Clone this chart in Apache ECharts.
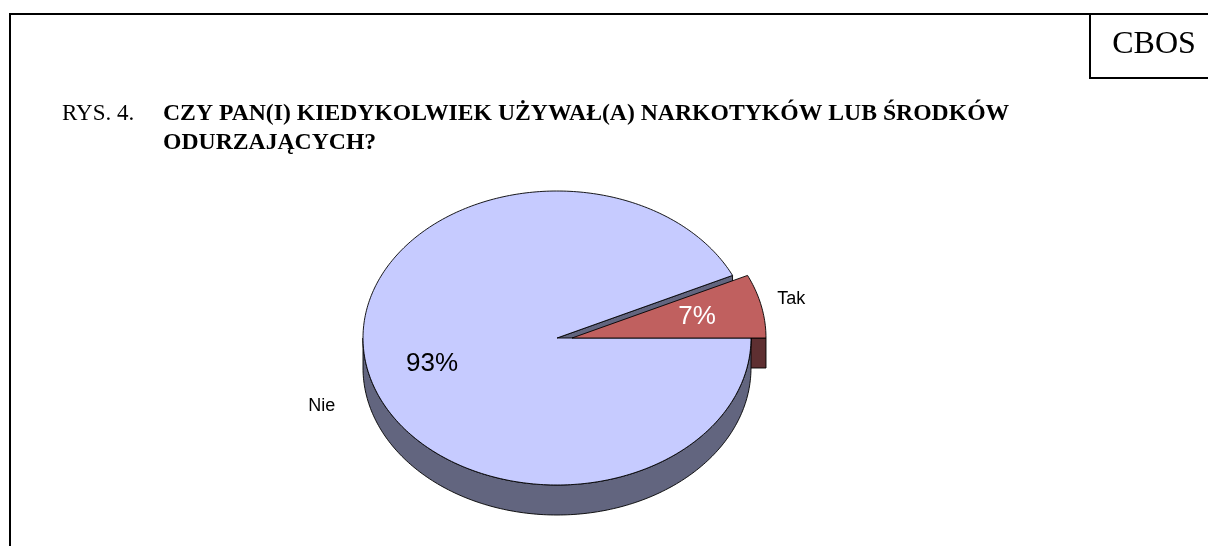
<!DOCTYPE html>
<html>
<head>
<meta charset="utf-8">
<script src="https://cdn.jsdelivr.net/npm/echarts@6/dist/echarts.min.js"></script>
<style>html,body{margin:0;padding:0;background:#fff}#c{width:1208px;height:546px}</style>
</head>
<body>
<div id="c"></div>
<script>
// ---- data ----
const categories = ['Nie', 'Tak'];
const values = [93, 7];
const percentLabels = ['93%', '7%'];
const titleNumber = 'RYS. 4.';
const titleLines = ['CZY PAN(I) KIEDYKOLWIEK UŻYWAŁ(A) NARKOTYKÓW LUB ŚRODKÓW', 'ODURZAJĄCYCH?'];
const sourceLabel = 'CBOS';

// ---- style ----
const topColors = ['#c6cbff', '#c0605f'];
const sideColors = ['#62657f', '#5e2f31'];
const pctColors = ['#000000', '#ffffff'];
const explode = [0, 15];
const geo = { cx: 557, cy: 338, rx: 194, ry: 147, depth: 30, startAngle: 0 };

const chart = echarts.init(document.getElementById('c'));

function renderItem(params, api) {
  const i = params.dataIndex;
  const total = values.reduce((a, b) => a + b, 0);
  let cum = 0;
  for (let k = 0; k < i; k++) cum += values[k];
  const v = api.value(0);
  const a0 = geo.startAngle - cum / total * 360;
  const a1 = a0 - v / total * 360;
  const mid = (a0 + a1) / 2;
  const rad = d => d * Math.PI / 180;
  const cx = geo.cx + explode[i] * Math.sign(Math.cos(rad(mid)));
  const cy = geo.cy;
  const P = (a, d) => [cx + geo.rx * Math.cos(rad(a)), cy - geo.ry * Math.sin(rad(a)) + (d || 0)];
  const arc = (s, e, d) => {
    const pts = [];
    const n = Math.max(2, Math.ceil(Math.abs(e - s)));
    for (let k = 0; k <= n; k++) pts.push(P(s + (e - s) * k / n, d));
    return pts;
  };
  const children = [];
  const sideZ = 10 + Math.round(-Math.sin(rad(mid)) * 10);
  const line = { stroke: '#000', lineWidth: 0.9, lineJoin: 'round' };
  // radial faces
  const radial = a => [[cx, cy], P(a), P(a, geo.depth), [cx, cy + geo.depth]];
  if (Math.cos(rad(a0)) < -1e-6) children.push({ type: 'polygon', z2: sideZ, shape: { points: radial(a0) }, style: Object.assign({ fill: sideColors[i] }, line) });
  if (Math.cos(rad(a1)) > 1e-6) children.push({ type: 'polygon', z2: sideZ, shape: { points: radial(a1) }, style: Object.assign({ fill: sideColors[i] }, line) });
  // outer front wall
  for (let k = -3; k <= 1; k++) {
    const fs = 180 + 360 * k, fe = 360 + 360 * k;
    const s = Math.max(a1, fs), e = Math.min(a0, fe);
    if (e - s > 0.01) {
      const topArc = arc(s, e, 0);
      const botArc = arc(e, s, geo.depth);
      children.push({ type: 'polygon', z2: sideZ + 1, shape: { points: topArc.concat(botArc) }, style: Object.assign({ fill: sideColors[i] }, line) });
    }
  }
  // top face
  children.push({ type: 'polygon', z2: 100, shape: { points: [[cx, cy]].concat(arc(a0, a1, 0)) }, style: Object.assign({ fill: topColors[i] }, line) });
  // labels
  const c = Math.cos(rad(mid)), sn = Math.sin(rad(mid));
  children.push({ type: 'text', z2: 200, style: {
    x: cx + geo.rx * c * 0.66, y: cy - geo.ry * sn * 0.66 + (sn < 0 ? geo.depth * 0.15 : 0), text: percentLabels[i],
    fill: pctColors[i], font: '26px "Liberation Sans", Arial, sans-serif', align: 'center', verticalAlign: 'middle' } });
  const f = 1.2;
  children.push({ type: 'text', z2: 200, style: {
    x: cx + geo.rx * c * f - 8, y: cy - geo.ry * sn * f + (sn < 0 ? geo.depth : 0), text: categories[i],
    fill: '#000', font: '18px "Liberation Sans", Arial, sans-serif', align: 'center', verticalAlign: 'middle' } });
  return { type: 'group', children };
}

chart.setOption({
  animation: false,
  graphic: [
    { type: 'rect', shape: { x: 10, y: 14, width: 1400, height: 800 }, style: { fill: 'none', stroke: '#000', lineWidth: 2 } },
    { type: 'rect', shape: { x: 1090, y: 14, width: 300, height: 64 }, style: { fill: 'none', stroke: '#000', lineWidth: 2 } },
    { type: 'text', style: { x: 1154, y: 45, text: sourceLabel, font: '32px "Liberation Serif", "Times New Roman", serif', fill: '#000', align: 'center', verticalAlign: 'middle' } },
    { type: 'text', style: { x: 62, y: 114, text: titleNumber, font: '23px "Liberation Serif", "Times New Roman", serif', fill: '#000', verticalAlign: 'middle' } },
    { type: 'text', style: { x: 163, y: 114, text: titleLines[0], font: 'bold 23.7px "Liberation Serif", "Times New Roman", serif', fill: '#000', verticalAlign: 'middle' } },
    { type: 'text', style: { x: 163, y: 143, text: titleLines[1], font: 'bold 23.7px "Liberation Serif", "Times New Roman", serif', fill: '#000', verticalAlign: 'middle' } }
  ],
  series: [{
    type: 'custom',
    coordinateSystem: 'none',
    renderItem: renderItem,
    data: values.map((v, i) => ({ value: v, name: categories[i] }))
  }]
});
</script>
</body>
</html>
